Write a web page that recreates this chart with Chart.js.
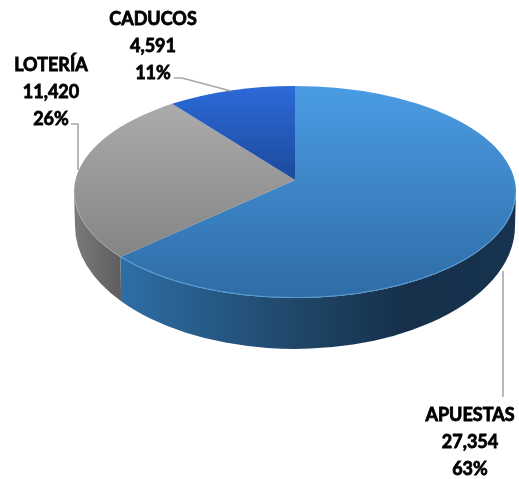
<!DOCTYPE html>
<html><head><meta charset="utf-8">
<style>html,body{margin:0;padding:0;background:#fff}canvas{display:block}</style>
<script src="https://cdn.jsdelivr.net/npm/chart.js@4"></script>
</head><body>
<canvas id="c" width="519" height="479"></canvas>
<script>
const categories = ["APUESTAS", "LOTERÍA", "CADUCOS"];
const values = [27354, 11420, 4591];
const valueLabels = ["27,354", "11,420", "4,591"];
const percentLabels = ["63%", "26%", "11%"];

const topStops = [["#4b9ce4","#2e6ca6"],["#ababab","#848484"],["#2c6ad8","#1c4a9c"]];
const sideStops = [
  [[0,"#2e6ea6"],[0.45,"#1f4668"],[0.72,"#16304b"],[1,"#17334f"]],
  [[0,"#7a7a7a"],[1,"#5e5e5e"]],
  [[0,"#1c4a9c"],[1,"#1c4a9c"]]
];
const rimColors = ["rgba(100,175,235,0.65)","rgba(175,175,175,0.65)","rgba(60,120,220,0.6)"];
const labelSpots = [[470,415],[51,65],[153,19]];
const leaders = [
  [[503,271],[503,397]],
  [[71,124],[78,124],[78,170]],
  [[174,78],[182,78],[231,91]]
];
const squash = 0.48, apexLift = 12, warp = 7*Math.PI/180, lineGap = 27;
const baseDrop = 34, baseRxShrink = 1, baseRyRatio = 0.556;

const phi = a => { const t = a + Math.PI/2; return t - warp*Math.sin(t); };

const pie3d = {
  id: "pie3d",
  beforeDatasetDraw(chart, args) {
    const ctx = chart.ctx, els = args.meta.data;
    const cx = els[0].x, cy = els[0].y, rx = els[0].outerRadius, ry = rx*squash;
    const ex = p => cx + rx*Math.sin(p), ey = p => cy - ry*Math.cos(p);
    ctx.save();
    els.forEach((el,i) => {
      const a = Math.max(phi(el.startAngle), Math.PI/2), b = Math.min(phi(el.endAngle), 3*Math.PI/2);
      if (b <= a) return;
      const g = ctx.createLinearGradient(ex(b),0,ex(a),0);
      sideStops[i].forEach(s => g.addColorStop(s[0],s[1]));
      ctx.beginPath();
      ctx.ellipse(cx,cy,rx,ry,0,a-Math.PI/2,b-Math.PI/2);
      ctx.ellipse(cx,cy+baseDrop,rx-baseRxShrink,rx*baseRyRatio,0,b-Math.PI/2,a-Math.PI/2,true);
      ctx.closePath();
      ctx.fillStyle = g; ctx.fill();
    });
    els.forEach((el,i) => {
      const a = phi(el.startAngle), b = phi(el.endAngle);
      const g = ctx.createLinearGradient(0,Math.min(ey(a),ey(b),cy-ry*(a<=0&&b>=0?1:0.6)),0,i===0?cy+ry:Math.max(ey(a),ey(b),cy-apexLift));
      g.addColorStop(0,topStops[i][0]); g.addColorStop(1,topStops[i][1]);
      ctx.beginPath();
      ctx.moveTo(cx,cy-apexLift);
      ctx.lineTo(ex(a),ey(a));
      ctx.ellipse(cx,cy,rx,ry,0,a-Math.PI/2,b-Math.PI/2);
      ctx.closePath();
      ctx.fillStyle = g; ctx.fill();
      ctx.beginPath();
      const ra = Math.max(a,Math.PI/2), rb = Math.min(b,3*Math.PI/2);
      if (rb > ra) {
        ctx.ellipse(cx,cy,rx-0.5,ry-0.5,0,ra-Math.PI/2,rb-Math.PI/2);
        ctx.strokeStyle = rimColors[i]; ctx.lineWidth = 1; ctx.stroke();
      }
    });
    ctx.strokeStyle = "#a6a6a6"; ctx.lineWidth = 1.6;
    leaders.forEach(pts => {
      ctx.beginPath();
      pts.forEach((p,j) => j ? ctx.lineTo(p[0],p[1]) : ctx.moveTo(p[0],p[1]));
      ctx.stroke();
    });
    ctx.fillStyle = "#000"; ctx.strokeStyle = "#000"; ctx.lineWidth = 0.8;
    ctx.font = "bold 18px Lato"; ctx.textAlign = "center"; ctx.textBaseline = "middle";
    categories.forEach((name,i) => {
      [name, valueLabels[i], percentLabels[i]].forEach((t,j) => {
        const x = labelSpots[i][0], y = labelSpots[i][1] + j*lineGap;
        ctx.fillText(t,x,y); ctx.strokeText(t,x,y);
      });
    });
    ctx.restore();
    return false;
  }
};

new Chart(document.getElementById("c"), {
  type: "pie",
  data: { labels: categories, datasets: [{ data: values, borderWidth: 0 }] },
  options: {
    responsive: false, animation: false, radius: 221,
    layout: { padding: { left: 74, right: 3, top: 0, bottom: 95 } },
    plugins: { legend: { display: false }, tooltip: { enabled: false }, title: { display: false } }
  },
  plugins: [pie3d]
});
</script>
</body></html>
